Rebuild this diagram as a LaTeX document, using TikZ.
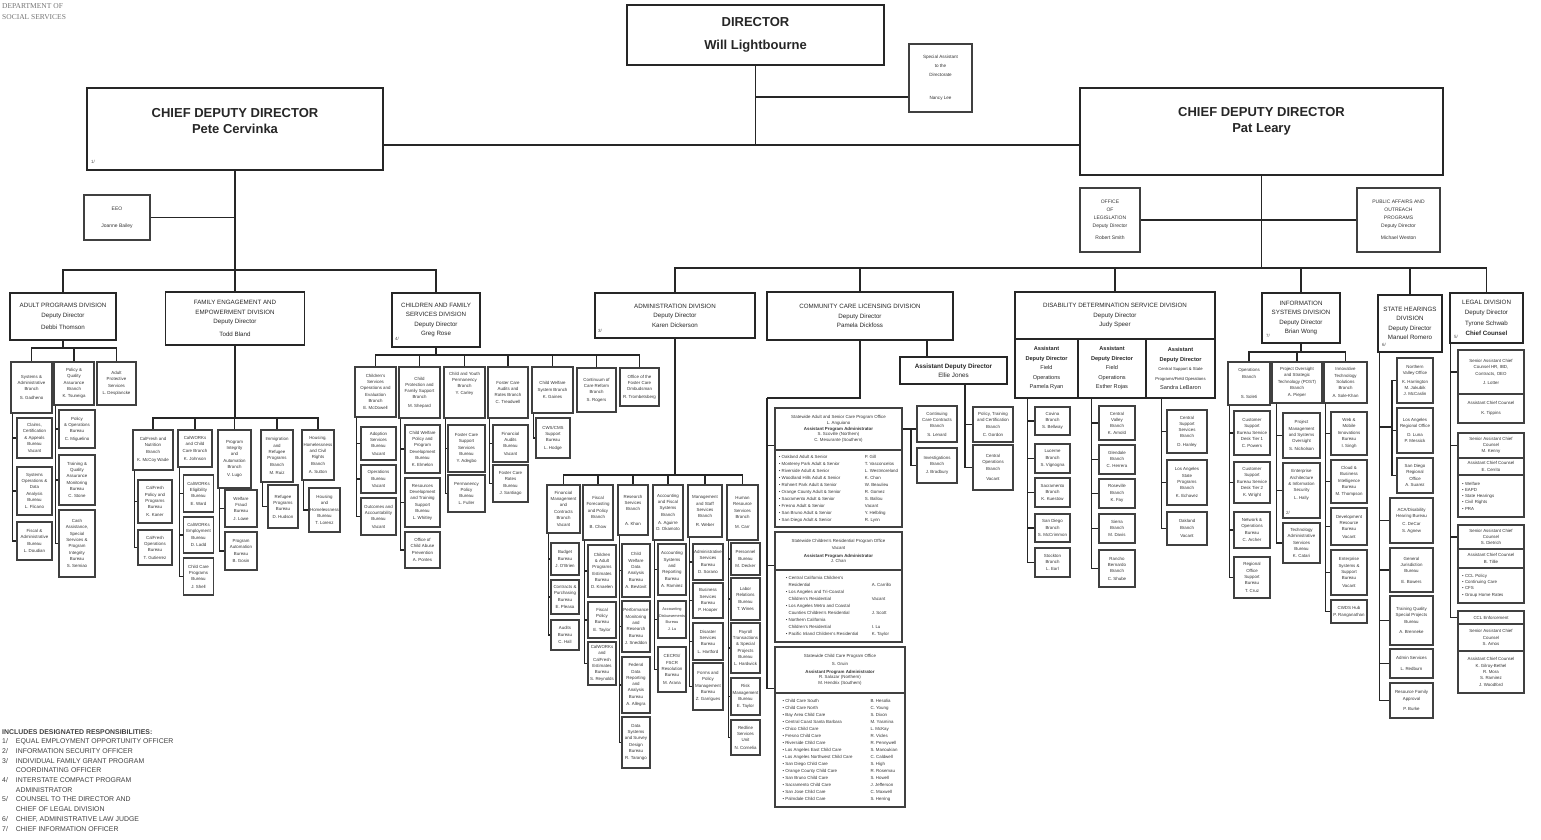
\documentclass[tikz,border=0pt]{standalone}
\usepackage{fontspec}
\setmainfont{Liberation Sans}
\newfontfamily\hdrfont{Liberation Serif}

\begin{document}
\begin{tikzpicture}[x=1pt,y=-1pt,
    topbox/.style={draw=black!85,line width=2pt,inner sep=0pt,align=center,text=black!85,font=\bfseries\fontsize{13}{16}\selectfont},
    toptext/.style={inner sep=0pt,align=center,text=black!85,font=\bfseries\fontsize{13}{16}\selectfont},
    divbox/.style={draw=black!85,line width=1.7pt,inner sep=0pt,align=center,text=black!85,font=\fontsize{6.2}{9.5}\selectfont},
    addbox/.style={divbox,font=\bfseries\fontsize{5.6}{9.5}\selectfont},
    unit/.style={draw=black!75,line width=1.1pt,inner sep=0.5pt,align=center,text=black!80,font=\fontsize{4.4}{6.3}\selectfont},
    mid/.style={unit,line width=1.6pt,font=\fontsize{5}{8}\selectfont},
    hdr/.style={unit,font=\fontsize{4.4}{5.6}\selectfont},
    list/.style={unit,font=\fontsize{4.4}{7}\selectfont},
    llist/.style={unit,align=left,text width=58pt},
    note/.style={inner sep=0pt,text=black!70,font=\fontsize{4.5}{5}\selectfont},
    link/.style={draw=black!85,line width=1.3pt},
    sz/.style 2 args={minimum width=#1,minimum height=#2}]
\useasboundingbox (0,0) rectangle (1541,839);

% heading and notes
\node[anchor=north west,inner sep=0pt,align=left,text=black!55,font=\hdrfont\fontsize{7.5}{11}\selectfont] (dss) at (2,3) {DEPARTMENT OF\\SOCIAL SERVICES};
\node[anchor=north west,inner sep=0pt,text=black!75,font=\fontsize{6.9}{9.7}\selectfont] (notes) at (2,727) {\begin{tabular}{@{}l@{\hspace{8pt}}l@{}}
\multicolumn{2}{@{}l}{\textbf{INCLUDES DESIGNATED RESPONSIBILITIES:}}\\
1/ & EQUAL EMPLOYMENT OPPORTUNITY OFFICER\\
2/ & INFORMATION SECURITY OFFICER\\
3/ & INDIVIDUAL FAMILY GRANT PROGRAM\\
   & COORDINATING OFFICER\\
4/ & INTERSTATE COMPACT PROGRAM\\
   & ADMINISTRATOR\\
5/ & COUNSEL TO THE DIRECTOR AND\\
   & CHIEF OF LEGAL DIVISION\\
6/ & CHIEF, ADMINISTRATIVE LAW JUDGE\\
7/ & CHIEF INFORMATION OFFICER
\end{tabular}};

% directorate
\node[topbox,sz={257}{60}] (dir) at (755.5,35) {DIRECTOR\\[7pt]Will Lightbourne};
\node[unit,sz={63}{68},font=\fontsize{4.6}{9}\selectfont] (spa) at (940.5,78) {Special Assistant\\to the\\Directorate\\[14pt]Nancy Lee};
\node[topbox,sz={296}{82}] (cddL) at (235,129) {};
\node[toptext] (cddLt) at (235,121) {CHIEF DEPUTY DIRECTOR\\Pete Cervinka};
\node[note] (n1) at (93,162) {1/};
\node[topbox,sz={363}{87}] (cddR) at (1261.5,131.5) {};
\node[toptext] (cddRt) at (1261.5,121) {CHIEF DEPUTY DIRECTOR\\Pat Leary};
\node[mid,sz={66}{45}] (eeo) at (117,217.5) {EEO\\[9pt]Joanne Bailey};
\node[mid,sz={60}{64}] (ola) at (1110,220) {OFFICE\\OF\\LEGISLATION\\Deputy Director\\[4pt]Robert Smith};
\node[mid,sz={83}{64}] (pao) at (1398.5,220) {PUBLIC AFFAIRS AND\\OUTREACH\\PROGRAMS\\Deputy Director\\[4pt]Michael Weston};

% adult programs
\node[divbox,sz={106}{47}] (adp) at (63,316.5) {ADULT PROGRAMS DIVISION\\Deputy Director\\[3pt]Debbi Thomson};
\node[unit,sz={41}{51}] (ap1) at (31.5,387.5) {Systems \&\\Administrative\\Branch\\[3pt]S. Gadheno};
\node[unit,sz={35}{40}] (ap11) at (34.5,438) {Claims,\\Certification\\\& Appeals\\Bureau\\[1pt]Vacant};
\node[unit,sz={35}{48}] (ap12) at (34.5,491) {Systems\\Operations \&\\Data\\Analysis\\Bureau\\[1pt]L. Flicano};
\node[unit,sz={35}{38}] (ap13) at (34.5,541) {Fiscal \&\\Administrative\\Bureau\\[1pt]L. Doudian};
\node[unit,sz={40}{43}] (ap2) at (74,383.5) {Policy \&\\Quality\\Assurance\\Branch\\[1pt]K. Tsuneiga};
\node[unit,sz={36}{38}] (ap21) at (77,429) {Policy\\\& Operations\\Bureau\\[1pt]C. Miguelino};
\node[unit,sz={36}{50}] (ap22) at (77,480) {Training \&\\Quality\\Assurance\\Monitoring\\Bureau\\[1pt]C. Stone};
\node[unit,sz={36}{67}] (ap23) at (77,543.5) {Cash\\Assistance,\\Special\\Services \&\\Program\\Integrity\\Bureau\\[1pt]S. Semiao};
\node[unit,sz={39}{43}] (ap3) at (116.5,383.5) {Adult\\Protective\\Services\\[1pt]L. Desplancke};

% family engagement
\node[divbox,sz={139}{53}] (fep) at (235,318.5) {FAMILY ENGAGEMENT AND\\EMPOWERMENT DIVISION\\Deputy Director\\[3pt]Todd Bland};
\node[unit,sz={40}{40}] (fe1) at (153,450) {CalFresh and\\Nutrition\\Branch\\[2pt]K. McCoy Wade};
\node[unit,sz={34}{43}] (fe11) at (155,501.5) {CalFresh\\Policy and\\Programs\\Bureau\\[1pt]K. Kaner};
\node[unit,sz={34}{35}] (fe12) at (155,547.5) {CalFresh\\Operations\\Bureau\\[1pt]T. Gutierrez};
\node[unit,sz={34}{37}] (fe2) at (195,448.5) {CalWORKs\\and Child\\Care Branch\\[2pt]K. Johnson};
\node[unit,sz={30}{37}] (fe21) at (198.5,493.5) {CalWORKs\\Eligibility\\Bureau\\[1pt]E. Ward};
\node[unit,sz={30}{36}] (fe22) at (198.5,535) {CalWORKs\\Employment\\Bureau\\[1pt]D. Ladd};
\node[unit,sz={30}{37}] (fe23) at (198.5,576.5) {Child Care\\Programs\\Bureau\\[1pt]J. Shell};
\node[unit,sz={33}{58}] (fe3) at (234.5,459) {Program\\Integrity\\and\\Automation\\Branch\\[2pt]V. Lugo};
\node[unit,sz={32}{37}] (fe31) at (241,508.5) {Welfare\\Fraud\\Bureau\\[1pt]J. Lowe};
\node[unit,sz={32}{38}] (fe32) at (241,551) {Program\\Automation\\Bureau\\[1pt]B. Gosin};
\node[unit,sz={32}{52}] (fe4) at (277,456) {Immigration\\and\\Refugee\\Programs\\Branch\\[2pt]M. Ruiz};
\node[unit,sz={30}{43}] (fe41) at (283,506.5) {Refugee\\Programs\\Bureau\\[1pt]D. Hudson};
\node[unit,sz={32}{50}] (fe5) at (318,455) {Housing,\\Homelessness\\and Civil\\Rights\\Branch\\[2pt]A. Sutton};
\node[unit,sz={31}{44}] (fe51) at (324.5,510) {Housing\\and\\Homelessness\\Bureau\\[1pt]T. Lorenz};

% children and family services
\node[divbox,sz={88}{54}] (cfs) at (436,320) {CHILDREN AND FAMILY\\SERVICES DIVISION\\Deputy Director\\Greg Rose};
\node[note] (n4) at (397,339) {4/};
\node[unit,sz={41}{50}] (cf1) at (375.5,392) {Children's\\Services\\Operations and\\Evaluation\\Branch\\[1pt]E. McDowell};
\node[unit,sz={35}{33}] (cf11) at (378.5,443.5) {Adoption\\Services\\Bureau\\[1pt]Vacant};
\node[unit,sz={35}{28}] (cf12) at (378.5,479) {Operations\\Bureau\\[1pt]Vacant};
\node[unit,sz={35}{37}] (cf13) at (378.5,516.5) {Outcomes and\\Accountability\\Bureau\\[1pt]Vacant};
\node[unit,sz={41}{51}] (cf2) at (419.5,392.5) {Child\\Protection and\\Family Support\\Branch\\[2pt]M. Shepard};
\node[unit,sz={35}{48}] (cf21) at (422.5,449) {Child Welfare\\Policy and\\Program\\Development\\Bureau\\[1pt]K. Elmelon};
\node[unit,sz={35}{49}] (cf22) at (422.5,502.5) {Resources\\Development\\and Training\\Support\\Bureau\\[1pt]L. Whitley};
\node[unit,sz={35}{36}] (cf23) at (422.5,550) {Office of\\Child Abuse\\Prevention\\[1pt]A. Pontes};
\node[unit,sz={41}{51}] (cf3) at (464.5,392.5) {Child and Youth\\Permanency\\Branch\\[1pt]Y. Carley\\[12pt]};
\node[unit,sz={37}{47}] (cf31) at (466.5,448.5) {Foster Care\\Support\\Services\\Bureau\\[1pt]Y. Adegbo};
\node[unit,sz={37}{37}] (cf32) at (466.5,493.5) {Permanency\\Policy\\Bureau\\[1pt]L. Fuller};
\node[unit,sz={40}{51}] (cf4) at (508,392.5) {Foster Care\\Audits and\\Rates Branch\\[1pt]C. Treadwell};
\node[unit,sz={35}{37}] (cf41) at (510.5,443.5) {Financial\\Audits\\Bureau\\[1pt]Vacant};
\node[unit,sz={35}{37}] (cf42) at (510.5,483.5) {Foster Care\\Rates\\Bureau\\[1pt]J. Santiago};
\node[unit,sz={41}{46}] (cf5) at (552.5,390) {Child Welfare\\System Branch\\[1pt]K. Gaines};
\node[unit,sz={34}{40}] (cf51) at (553,438) {CWS/CMS\\Support\\Bureau\\[1pt]L. Hodge};
\node[unit,sz={39}{44}] (cf6) at (596.5,390) {Continuum of\\Care Reform\\Branch\\[1pt]S. Rogers};
\node[unit,sz={39}{38}] (cf7) at (639.5,387) {Office of the\\Foster Care\\Ombudsman\\[1pt]R. Trombetsberg};

% administration
\node[divbox,sz={160}{45}] (adm) at (675,315.5) {ADMINISTRATION DIVISION\\Deputy Director\\Karen Dickerson};
\node[note] (n3) at (600,331) {3/};
\node[unit,sz={33}{48}] (ad1) at (563.5,509) {Financial\\Management\\and\\Contracts\\Branch\\[1pt]Vacant};
\node[unit,sz={28}{32}] (ad11) at (565,559) {Budget\\Bureau\\[1pt]J. O'Brien};
\node[unit,sz={28}{34}] (ad12) at (565,597) {Contracts \&\\Purchasing\\Bureau\\[1pt]E. Pleasa};
\node[unit,sz={28}{30}] (ad13) at (565,635) {Audits\\Bureau\\[1pt]C. Hall};
\node[unit,sz={30}{55}] (ad2) at (598,512.5) {Fiscal\\Forecasting\\and Policy\\Branch\\[4pt]B. Chow};
\node[unit,sz={28}{52}] (ad21) at (602,571) {Children\\\& Adult\\Programs\\Estimates\\Bureau\\[1pt]D. Knaelen};
\node[unit,sz={28}{36}] (ad22) at (602,620) {Fiscal\\Policy\\Bureau\\[1pt]E. Taylor};
\node[unit,sz={28}{43}] (ad23) at (602,663.5) {CalWORKs\\and\\CalFresh\\Estimates\\Bureau\\[1pt]S. Reynolds};
\node[unit,sz={30}{50}] (ad3) at (633,510) {Research\\Services\\Branch\\[8pt]A. Khan};
\node[unit,sz={28}{53}] (ad31) at (636,570.5) {Child\\Welfare\\Data\\Analysis\\Bureau\\[1pt]A. Bevtovit};
\node[unit,sz={28}{51}] (ad32) at (636,626.5) {Performance\\Monitoring\\and\\Research\\Bureau\\[1pt]J. Sneddon};
\node[unit,sz={28}{56}] (ad33) at (636,685) {Federal\\Data\\Reporting\\and\\Analysis\\Bureau\\[1pt]A. Allegra};
\node[unit,sz={28}{51}] (ad34) at (636,742.5) {Data\\Systems\\and Survey\\Design\\Bureau\\[1pt]R. Tarango};
\node[unit,sz={30}{55}] (ad4) at (668,512.5) {Accounting\\and Fiscal\\Systems\\Branch\\[2pt]A. Aguirre\\D. Okamoto};
\node[unit,sz={28}{51}] (ad41) at (672,569.5) {Accounting\\Systems\\and\\Reporting\\Bureau\\[1pt]A. Ramirez};
\node[unit,sz={28}{37},font=\fontsize{3.9}{6.3}\selectfont] (ad42) at (672,619.5) {Accounting\\Disbursements\\Bureau\\[1pt]J. Lu};
\node[unit,sz={28}{45}] (ad43) at (672,669.5) {CECRS/\\FSCR\\Resolution\\Bureau\\[1pt]M. Arana};
\node[unit,sz={34}{52}] (ad5) at (705,511) {Management\\and Staff\\Services\\Branch\\[2pt]R. Weber};
\node[unit,sz={30}{36}] (ad51) at (708,562) {Administrative\\Services\\Bureau\\[1pt]D. Sorano};
\node[unit,sz={30}{35}] (ad52) at (708,600.5) {Business\\Services\\Bureau\\[1pt]P. Hooper};
\node[unit,sz={30}{37}] (ad53) at (708,641.5) {Disaster\\Services\\Bureau\\[1pt]L. Hartford};
\node[unit,sz={30}{47}] (ad54) at (708,686.5) {Forms and\\Policy\\Management\\Bureau\\[1pt]Z. Garrigues};
\node[unit,sz={31}{55}] (ad6) at (742.5,512.5) {Human\\Resource\\Services\\Branch\\[4pt]M. Carr};
\node[unit,sz={29}{32}] (ad61) at (745.5,559) {Personnel\\Bureau\\[1pt]M. Decker};
\node[unit,sz={29}{42}] (ad62) at (745.5,599) {Labor\\Relations\\Bureau\\[1pt]T. Wines};
\node[unit,sz={29}{50}] (ad63) at (745.5,648) {Payroll\\Transactions\\\& Special\\Projects\\Bureau\\[1pt]L. Hardwick};
\node[unit,sz={29}{37}] (ad64) at (745.5,696.5) {Risk\\Management\\Bureau\\[1pt]E. Taylor};
\node[unit,sz={29}{35}] (ad65) at (745.5,737.5) {Redline\\Services\\Unit\\[1pt]N. Cornelia};

% community care licensing
\node[divbox,sz={186}{48}] (ccl) at (860,316) {COMMUNITY CARE LICENSING DIVISION\\Deputy Director\\Pamela Dickfoss};
\node[divbox,sz={107}{27},font=\fontsize{6.3}{9}\selectfont] (add) at (953.5,370.5) {\textbf{Assistant Deputy Director}\\Ellie Jones};
\node[unit,sz={40}{36}] (cc1) at (937,424) {Continuing\\Care Contracts\\Branch\\[2pt]S. Lenard};
\node[unit,sz={40}{35}] (cc2) at (937,465.5) {Investigations\\Branch\\[2pt]J. Bradbury};
\node[unit,sz={40}{35}] (cc3) at (993,424.5) {Policy, Training\\and Certification\\Branch\\[2pt]C. Gordon};
\node[unit,sz={40}{45}] (cc4) at (993,467.5) {Central\\Operations\\Branch\\[4pt]Vacant};
\node[hdr,sz={127}{42}] (po1h) at (838.5,429) {Statewide Adult and Senior Care Program Office\\L. Anguiano\\\textbf{Assistant Program Administrator}\\S. Scoville (Northern)\\C. Mesurante (Southern)};
\node[list,sz={127}{77}] (po1l) at (838.5,488.5) {\begin{tabular}{@{}p{86pt}@{}l@{}}
• Oakland Adult \& Senior & P. Gill\\
• Monterey Park Adult \& Senior & T. Vasconcelos\\
• Riverside Adult \& Senior & L. Westmoreland\\
• Woodland Hills Adult \& Senior & K. Chan\\
• Rohnert Park Adult \& Senior & W. Beaulieu\\
• Orange County Adult \& Senior & R. Gomez\\
• Sacramento Adult \& Senior & S. Ballou\\
• Fresno Adult \& Senior & Vacant\\
• San Bruno Adult \& Senior & Y. Helbling\\
• San Diego Adult \& Senior & R. Lynn
\end{tabular}};
\node[hdr,sz={127}{38}] (po2h) at (838.5,551) {Statewide Children's Residential Program Office\\[2pt]Vacant\\[2pt]\textbf{Assistant Program Administrator}\\J. Chan};
\node[list,sz={127}{72}] (po2l) at (838.5,606) {\begin{tabular}{@{}p{86pt}@{}l@{}}
• Central California Children's & \\
\hphantom{• }Residential & A. Carrillo\\
• Los Angeles and Tri-Coastal & \\
\hphantom{• }Children's Residential & Vacant\\
• Los Angeles Metro and Coastal & \\
\hphantom{• }Counties Children's Residential & J. Scott\\
• Northern California & \\
\hphantom{• }Children's Residential & I. Lu\\
• Pacific Inland Children's Residential & K. Taylor
\end{tabular}};
\node[hdr,sz={130}{46}] (po3h) at (840,670) {Statewide Child Care Program Office\\[2pt]S. Gruin\\[2pt]\textbf{Assistant Program Administrator}\\R. Salazar (Northern)\\M. Hendrix (Southern)};
\node[list,sz={130}{114}] (po3l) at (840,750) {\begin{tabular}{@{}p{88pt}@{}l@{}}
• Child Care South & B. Hesolia\\
• Child Care North & C. Young\\
• Bay Area Child Care & S. Dixon\\
• Central Coast Santa Barbara & M. Yasmina\\
• Chico Child Care & L. McKay\\
• Fresno Child Care & R. Vicles\\
• Riverside Child Care & R. Pennywell\\
• Los Angeles East Child Care & S. Manoukian\\
• Los Angeles Northwest Child Care & C. Caldwell\\
• San Diego Child Care & S. High\\
• Orange County Child Care & R. Rosemau\\
• San Bruno Child Care & S. Howell\\
• Sacramento Child Care & J. Jefferson\\
• San Jose Child Care & C. Maxwell\\
• Palmdale Child Care & S. Herring
\end{tabular}};

% disability determination
\node[divbox,sz={200}{47}] (dds) at (1115,315.5) {DISABILITY DETERMINATION SERVICE DIVISION\\Deputy Director\\Judy Speer};
\node[addbox,sz={63}{59}] (dda1) at (1046.5,368.5) {Assistant\\Deputy Director\\\mdseries Field\\\mdseries Operations\\\mdseries Pamela Ryan};
\node[addbox,sz={68}{59}] (dda2) at (1112,368.5) {Assistant\\Deputy Director\\\mdseries Field\\\mdseries Operations\\\mdseries Esther Rojas};
\node[addbox,sz={69}{59}] (dda3) at (1180.5,368.5) {Assistant\\Deputy Director\\{\mdseries\fontsize{4.2}{9.5}\selectfont Central Support \& State}\\{\mdseries\fontsize{4.2}{9.5}\selectfont Programs/Field Operations}\\\mdseries Sandra LeBaron};
\node[unit,sz={35}{28}] (dd11) at (1052.5,421) {Covina\\Branch\\[1pt]S. Bellway};
\node[unit,sz={35}{29}] (dd12) at (1052.5,458.5) {Lucerne\\Branch\\[1pt]S. Vignogna};
\node[unit,sz={35}{29}] (dd13) at (1052.5,492.5) {Sacramento\\Branch\\[1pt]K. Kuestow};
\node[unit,sz={35}{28}] (dd14) at (1052.5,528) {San Diego\\Branch\\[1pt]S. McCrimmon};
\node[unit,sz={35}{29}] (dd15) at (1052.5,562.5) {Stockton\\Branch\\[1pt]L. Earl};
\node[unit,sz={36}{34}] (dd21) at (1117,423) {Central\\Valley\\Branch\\K. Arnold};
\node[unit,sz={36}{29}] (dd22) at (1117,459.5) {Glendale\\Branch\\[1pt]C. Herrera};
\node[unit,sz={36}{29}] (dd23) at (1117,493.5) {Roseville\\Branch\\[1pt]K. Fay};
\node[unit,sz={36}{29}] (dd24) at (1117,528.5) {Sierra\\Branch\\[1pt]M. Davis};
\node[unit,sz={36}{37}] (dd25) at (1117,568.5) {Rancho\\Bernardo\\Branch\\[1pt]C. Shube};
\node[unit,sz={40}{43}] (dd31) at (1187,431.5) {Central\\Support\\Services\\Branch\\[2pt]D. Hanley};
\node[unit,sz={40}{45}] (dd32) at (1187,482.5) {Los Angeles\\State\\Programs\\Branch\\[1pt]K. Echavez};
\node[unit,sz={40}{33}] (dd33) at (1187,528.5) {Oakland\\Branch\\[2pt]Vacant};

% information systems
\node[divbox,sz={78}{50}] (isd) at (1301,318) {INFORMATION\\SYSTEMS DIVISION\\Deputy Director\\Brian Wong};
\node[note] (n7) at (1268,336) {7/};
\node[unit,sz={42}{43}] (is1) at (1249,383.5) {Operations\\Branch\\[14pt]S. Soleti};
\node[unit,sz={36}{44}] (is11) at (1252,433) {Customer\\Support\\Bureau Service\\Desk Tier 1\\[1pt]C. Powers};
\node[unit,sz={36}{41}] (is12) at (1252,482.5) {Customer\\Support\\Bureau Service\\Desk Tier 2\\[1pt]K. Wright};
\node[unit,sz={36}{36}] (is13) at (1252,530) {Network \&\\Operations\\Bureau\\[1pt]C. Archer};
\node[unit,sz={36}{41}] (is14) at (1252,577.5) {Regional\\Office\\Support\\Bureau\\[1pt]T. Cruz};
\node[unit,sz={50}{41}] (is2) at (1297,382.5) {Project Oversight\\and Strategic\\Technology (POST)\\Branch\\[1pt]A. Pieper};
\node[unit,sz={37}{45}] (is21) at (1301.5,435.5) {Project\\Management\\and Systems\\Oversight\\[1pt]S. Nicholson};
\node[unit,sz={37}{55}] (is22) at (1301.5,490.5) {Enterprise\\Architecture\\\& Information\\Security\\[1pt]L. Hally\\[6pt]};
\node[note] (n2) at (1288,513) {2/};
\node[unit,sz={37}{40}] (is23) at (1301.5,543) {Technology\\Administrative\\Services\\Bureau\\[1pt]K. Catari};
\node[unit,sz={43}{41}] (is3) at (1345.5,382.5) {Innovative\\Technology\\Solutions\\Branch\\[1pt]A. Sole-Khan};
\node[unit,sz={36}{43}] (is31) at (1349,433.5) {Web \&\\Mobile\\Innovations\\Bureau\\[1pt]I. Singh};
\node[unit,sz={36}{43}] (is32) at (1349,481.5) {Cloud \&\\Business\\Intelligence\\Bureau\\[1pt]M. Thompson};
\node[unit,sz={36}{37}] (is33) at (1349,526.5) {Development\\Resource\\Bureau\\[1pt]Vacant};
\node[unit,sz={36}{45}] (is34) at (1349,572.5) {Enterprise\\Systems \&\\Support\\Bureau\\[1pt]Vacant};
\node[unit,sz={36}{23}] (is35) at (1349,611.5) {CWDS Hub\\[1pt]P. Ranganathan};

% state hearings
\node[divbox,sz={64}{57}] (shd) at (1410,323.5) {STATE HEARINGS\\DIVISION\\Deputy Director\\Manuel Romero};
\node[note] (n6) at (1384,345) {6/};
\node[unit,sz={36}{45}] (sh1) at (1415,380.5) {Northern\\Valley Office\\[2pt]K. Harrington\\M. Jakubik\\J. McCaslin};
\node[unit,sz={36}{45}] (sh2) at (1415,430.5) {Los Angeles\\Regional Office\\[2pt]D. Luna\\P. Messick};
\node[unit,sz={36}{35}] (sh3) at (1415,475.5) {San Diego\\Regional\\Office\\A. Suarez};
\node[unit,sz={43}{45}] (sh4) at (1411.5,520.5) {ACA/Disability\\Hearing Bureau\\[2pt]C. DeCar\\S. Agnew};
\node[unit,sz={43}{44}] (sh5) at (1411.5,570) {General\\Jurisdiction\\Bureau\\[4pt]E. Bowers};
\node[unit,sz={43}{49}] (sh6) at (1411.5,620.5) {Training Quality\\Special Projects\\Bureau\\[4pt]A. Brenneke};
\node[unit,sz={43}{29}] (sh7) at (1411.5,663.5) {Admin Services\\[4pt]L. Redburn};
\node[unit,sz={43}{35}] (sh8) at (1411.5,700.5) {Resource Family\\Approval\\[4pt]P. Burke};

% legal
\node[divbox,sz={73}{50}] (lgl) at (1486.5,318) {LEGAL DIVISION\\Deputy Director\\[2pt]Tyrone Schwab\\\textbf{Chief Counsel}};
\node[note] (n5) at (1456,337) {5/};
\node[unit,sz={66}{44}] (lg1a) at (1491,372) {Senior Assistant Chief\\Counsel HR, IBD,\\Contracts, OEO\\[3pt]J. Lotter};
\node[unit,sz={66}{29}] (lg1b) at (1491,408.5) {Assistant Chief Counsel\\[3pt]K. Tippins};
\node[unit,sz={66}{25}] (lg2a) at (1491,445.5) {Senior Assistant Chief\\Counsel\\M. Kenny};
\node[unit,sz={66}{17}] (lg2b) at (1491,466.5) {Assistant Chief Counsel\\E. Cerrito};
\node[llist,sz={66}{42}] (lg2c) at (1491,496) {• Welfare\\• EAPD\\• State Hearings\\• Civil Rights\\• PRA};
\node[unit,sz={66}{24}] (lg3a) at (1491,537) {Senior Assistant Chief\\Counsel\\S. Dietrich};
\node[unit,sz={66}{19}] (lg3b) at (1491,558.5) {Assistant Chief Counsel\\B. Tillie};
\node[llist,sz={66}{35}] (lg3c) at (1491,585.5) {• CCL Policy\\• Continuing Care\\• CFS\\• Group Home Rates};
\node[unit,sz={66}{13}] (lg4a) at (1491,617.5) {CCL Enforcement};
\node[unit,sz={66}{27}] (lg4b) at (1491,637.5) {Senior Assistant Chief\\Counsel\\S. Amos};
\node[unit,sz={66}{42}] (lg4c) at (1491,672) {Assistant Chief Counsel\\K. Gilroy-Bethel\\R. Mora\\S. Ramirez\\J. Woodford};

% connectors
\coordinate (dirbus) at (755.5,145);
\coordinate (lbus) at (235,270);
\coordinate (rbus) at (1261.5,268);
\draw[link] (dir.south) -- (dirbus);
\draw[link] ([yshift=-19pt]spa.west) -| (dir.south);
\draw[link] (dirbus -| cddL.east) -- (dirbus -| cddR.west);
\draw[link] (cddL.south) -- (lbus);
\draw[link] (eeo.east) -- (eeo.east -| cddL.south);
\foreach \n in {adp,fep,cfs} \draw[link] (\n.north) |- (lbus);
\draw[link] (cddR.south) -- (rbus);
\draw[link] (ola.east) -- (ola.east -| cddR.south);
\draw[link] (pao.west) -- (pao.west -| cddR.south);
\foreach \n in {adm,ccl,dds,isd,shd,lgl} \draw[link] (\n.north) |- (rbus);

\coordinate (apbus) at (63,348);
\coordinate (febus) at (235,418);
\coordinate (cfbus) at (436,355);
\coordinate (adbus) at (675,475);
\coordinate (isbus) at (1301,352);
\draw[link] (adp.south) -- (apbus);
\foreach \n in {ap1,ap2,ap3} \draw[link] (\n.north) |- (apbus);
\draw[link] (fep.south) -- (febus);
\foreach \n in {fe1,fe2,fe3,fe4,fe5} \draw[link] (\n.north) |- (febus);
\draw[link] (cfs.south) -- (cfbus);
\foreach \n in {cf1,cf2,cf3,cf4,cf5,cf6,cf7} \draw[link] (\n.north) |- (cfbus);
\draw[link] (adm.south) -- (adbus);
\foreach \n in {ad1,ad2,ad3,ad4,ad5,ad6} \draw[link] (\n.north) |- (adbus);
\draw[link] (isd.south) -- (isbus);
\foreach \n in {is1,is2,is3} \draw[link] (\n.north) |- (isbus);

% branch to bureau
\foreach \b/\m in {ap1/3,ap2/3,fe1/2,fe2/3,fe3/2,fe4/1,fe5/1,cf1/3,cf2/3,cf3/2,cf4/2,cf5/1,
    ad1/3,ad2/3,ad3/4,ad4/3,ad5/4,ad6/5,is1/4,is3/5}
  \foreach \i in {1,...,\m} \draw[link] ([xshift=2pt]\b.south west) |- (\b\i.west);
\foreach \i in {1,2,3} \draw[link] ([xshift=5pt]is2.south west) |- (is2\i.west);
\foreach \i in {1,...,5} \draw[link] ([xshift=13pt]dda1.south west) |- (dd1\i.west);
\foreach \i in {1,...,5} \draw[link] ([xshift=14pt]dda2.south west) |- (dd2\i.west);
\foreach \i in {1,2,3} \draw[link] ([xshift=16pt]dda3.south west) |- (dd3\i.west);

% community care licensing
\coordinate (cclv) at (767,398);
\coordinate (ccv) at (911,429);
\draw[link] (ccl.south) |- (cclv);
\foreach \n in {po1h,po2h,po3h} \draw[link] (cclv) |- ([yshift=5pt]\n.south west);
\draw[link] ([xshift=-26.5pt]add.north) -- ([xshift=-26.5pt]add.north |- ccl.south);
\draw[link] (po1h.east) -- (cc1.west |- po1h.east);
\draw[link] (ccv) |- (cc2.west);
\foreach \n in {cc3,cc4} \draw[link] ([xshift=11.5pt]add.south) |- (\n.west);

% state hearings and legal
\coordinate (shv) at (1392,427);
\draw[link] ([xshift=2pt]shd.south west) |- (shv);
\foreach \n in {sh1,sh2,sh3} \draw[link] (shv) |- (\n.west);
\foreach \n in {sh4,sh5,sh6,sh7,sh8} \draw[link] ([xshift=2pt]shd.south west) |- (\n.west);
\foreach \n in {lg1a,lg2a,lg3a,lg4a} \draw[link] ([xshift=1.5pt]lgl.south west) |- (\n.west);
\end{tikzpicture}
\end{document}
